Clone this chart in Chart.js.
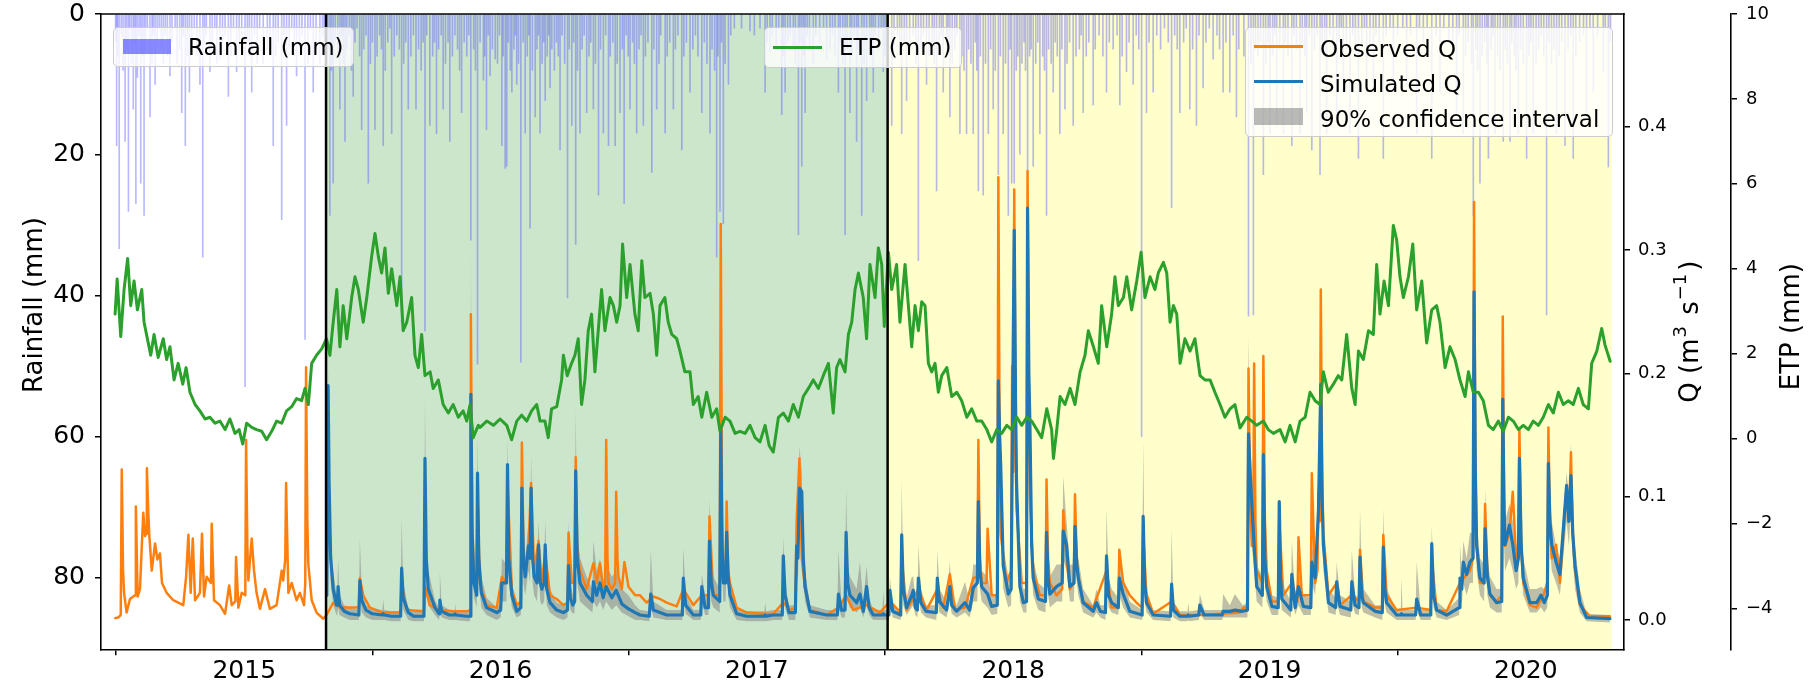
<!DOCTYPE html>
<html>
<head>
<meta charset="utf-8">
<script src="https://cdn.jsdelivr.net/npm/chart.js@4.4.1/dist/chart.umd.min.js"></script>
<style>
  html, body { margin: 0; padding: 0; background: #fff; }
  #wrap { position: relative; width: 1814px; height: 691px; overflow: hidden; }
  canvas { display: block; }
  .lg { position: absolute; background: rgba(255,255,255,0.8); border: 1px solid #cccccc; border-radius: 5px;
        box-sizing: border-box; font-family: "DejaVu Sans", sans-serif; font-size: 23px; color: #000; }
  .lg .row { position: absolute; left: 74px; height: 35px; line-height: 35px; white-space: nowrap; }
  .lg .sw { position: absolute; }
</style>
</head>
<body>
<div id="wrap">
  <canvas id="chart" width="1814" height="691"></canvas>

  <div class="lg" style="left:113px; top:27px; width:241px; height:40px;">
    <span class="sw" style="left:9px; top:11px; width:48px; height:15px; background:rgba(60,60,255,0.6);"></span>
    <span class="row" style="top:2px;">Rainfall (mm)</span>
  </div>

  <div class="lg" style="left:764px; top:27px; width:198px; height:41px;">
    <span class="sw" style="left:8px; top:18px; width:49px; height:3px; background:#2ca02c;"></span>
    <span class="row" style="top:2px;">ETP (mm)</span>
  </div>

  <div class="lg" style="left:1245px; top:27px; width:368px; height:110px;">
    <span class="sw" style="left:8px; top:17px; width:49px; height:3px; background:#ff7f0e;"></span>
    <span class="row" style="top:4px;">Observed Q</span>
    <span class="sw" style="left:8px; top:52px; width:49px; height:3px; background:#1f77b4;"></span>
    <span class="row" style="top:38.5px;">Simulated Q</span>
    <span class="sw" style="left:8px; top:80px; width:49px; height:17px; background:rgba(128,128,128,0.55);"></span>
    <span class="row" style="top:73.5px;">90% confidence interval</span>
  </div>
</div>

<script>
// ---- Periods (decimal years) ----
const calibrationStart = 2015.319;
const validationStart = 2017.510;
const validationEnd = 2020.336;

// ---- Axis ticks ----
const yearTicks = [2015, 2016, 2017, 2018, 2019, 2020];
const rainTicks = [0, 20, 40, 60, 80];
const qTicks = [0, 0.1, 0.2, 0.3, 0.4];
const etpTicks = [-4, -2, 0, 2, 4, 6, 8, 10];

// ---- Daily rainfall, larger events [decimal year, mm] ----
const rainfall = [
  [2014.502,18.7],[2014.512,33.3],[2014.535,18.1],[2014.548,28],[2014.567,13.5],[2014.577,26.9],[2014.596,24],[2014.609,28.6],
  [2014.632,14.6],[2014.652,10],[2014.684,7],[2014.710,8.8],[2014.756,14],[2014.770,18.7],[2014.786,11.1],[2014.827,10],
  [2014.838,34.5],[2014.866,8.2],[2014.905,6.4],[2014.938,11.7],[2014.970,8.2],[2015.003,52.9],[2015.029,11.1],[2015.074,7],
  [2015.113,18.7],[2015.146,29.2],[2015.165,15.8],[2015.204,8.8],[2015.237,46.2],[2015.269,11.1],[2015.295,7],[2015.334,28.6],
  [2015.347,24],[2015.373,13.5],[2015.393,18.1],[2015.425,11.7],[2015.458,16.4],[2015.484,24],[2015.510,16.4],[2015.542,18.7],
  [2015.575,17],[2015.614,43.8],[2015.640,13.5],[2015.670,13.5],[2015.705,45],[2015.724,15.8],[2015.750,17],[2015.776,13.5],
  [2015.802,18.1],[2015.848,14],[2015.884,32.1],[2015.910,49.7],[2015.933,9.4],[2015.945,16.4],[2015.959,8.8],[2015.979,6.4],
  [2016.005,18.7],[2016.018,21.9],[2016.024,21.6],[2016.044,11.1],[2016.063,10],[2016.079,49.4],[2016.096,16.9],[2016.115,30.4],
  [2016.135,14.6],[2016.154,16.9],[2016.174,12.3],[2016.193,10.5],[2016.232,19.3],[2016.261,40.3],[2016.278,15.8],[2016.293,32.7],
  [2016.310,16.9],[2016.336,14],[2016.362,13.5],[2016.382,25.7],[2016.401,16.9],[2016.421,18.7],[2016.447,18.7],[2016.466,14],
  [2016.482,26.9],[2016.505,13.5],[2016.531,16.9],[2016.557,15.8],[2016.590,22.5],[2016.609,13.5],[2016.642,16.9],[2016.674,13.5],
  [2016.707,19.3],[2016.739,11.1],[2016.785,14],[2016.817,16.9],[2016.843,34.5],[2016.856,28],[2016.869,29.8],[2016.889,10],
  [2016.973,2.4],[2017.032,11.1],[2017.051,5.3],[2017.097,14.3],[2017.110,11.1],[2017.162,31.3],[2017.175,21.6],[2017.188,14],
  [2017.220,7],[2017.272,6.4],[2017.318,11.1],[2017.344,31.3],[2017.363,14],[2017.389,18.1],[2017.409,28.6],[2017.428,12.3],
  [2017.454,11.1],[2017.493,8.2],[2017.526,15.8],[2017.565,17],[2017.584,12.3],[2017.630,35],[2017.662,10],[2017.701,25.1],
  [2017.727,11.1],[2017.753,14.6],[2017.792,17],[2017.818,17],[2017.844,17],[2017.864,25.1],[2017.883,25.7],[2017.903,17],
  [2017.922,13.5],[2017.942,22.8],[2017.961,17],[2017.981,28.6],[2017.994,24],[2018.004,24],[2018.026,19.9],[2018.056,22.2],
  [2018.078,21.6],[2018.104,17],[2018.130,28.6],[2018.156,11.1],[2018.182,17],[2018.202,13.5],[2018.234,15.8],[2018.273,14],
  [2018.312,12.9],[2018.364,11.1],[2018.416,12.9],[2018.442,8.2],[2018.468,10],[2018.501,60],[2018.520,14],[2018.546,11.1],
  [2018.618,27.5],[2018.650,14],[2018.689,13.5],[2018.715,15.8],[2018.741,10.5],[2018.780,6.4],[2018.819,11.1],[2018.845,11.1],
  [2018.871,14.6],[2018.918,42.9],[2018.937,42.7],[2018.976,22.8],[2019.002,17],[2019.028,15.8],[2019.054,17],[2019.087,18.7],
  [2019.119,17],[2019.145,14],[2019.165,19.3],[2019.197,22.8],[2019.223,17],[2019.262,14.6],[2019.288,11.1],[2019.314,17],
  [2019.347,20.5],[2019.379,11.1],[2019.405,11.1],[2019.444,20.5],[2019.483,11.1],[2019.535,10],[2019.574,17],[2019.633,20.5],
  [2019.665,11.1],[2019.730,14],[2019.756,17],[2019.795,28.6],[2019.821,24],[2019.854,20.5],[2019.880,17],[2019.912,18.1],
  [2019.938,18.1],[2019.971,17],[2020.003,20.5],[2020.029,17],[2020.081,42.7],[2020.120,17],[2020.153,18.7],[2020.185,20.5],
  [2020.237,14],[2020.263,11.1],[2020.302,8.2],[2020.322,21.7]
];

// ---- Daily rainfall, light showers [decimal year, mm] ----
const rainfallLight = [
  [2014.498,4],[2014.506,6],[2014.520,3],[2014.527,8],[2014.541,5],[2014.553,2],[2014.560,7],[2014.572,4],[2014.583,9],[2014.590,3],
  [2014.602,6],[2014.615,5],[2014.622,2],[2014.640,7],[2014.645,3],[2014.660,4],[2014.668,2],[2014.676,5],[2014.692,3],[2014.700,6],
  [2014.718,4],[2014.730,2],[2014.738,7],[2014.748,5],[2014.762,3],[2014.778,6],[2014.795,4],[2014.805,2],[2014.815,6],[2014.845,4],
  [2014.852,3],[2014.875,5],[2014.885,2],[2014.893,7],[2014.915,4],[2014.925,3],[2014.948,6],[2014.958,2],[2014.980,5],[2014.990,3],
  [2015.012,4],[2015.020,6],[2015.040,3],[2015.050,7],[2015.060,2],[2015.090,5],[2015.100,3],[2015.122,6],[2015.132,4],[2015.155,3],
  [2015.175,5],[2015.185,2],[2015.195,6],[2015.215,4],[2015.225,3],[2015.248,7],[2015.258,2],[2015.280,5],[2015.305,3],[2015.312,6],
  [2015.326,5],[2015.340,8],[2015.355,4],[2015.365,6],[2015.380,3],[2015.386,7],[2015.400,5],[2015.410,3],[2015.418,8],[2015.432,4],
  [2015.440,2],[2015.450,6],[2015.466,5],[2015.475,3],[2015.492,7],[2015.500,4],[2015.518,6],[2015.528,3],[2015.535,5],[2015.550,8],
  [2015.560,4],[2015.568,2],[2015.585,6],[2015.595,3],[2015.605,5],[2015.622,7],[2015.630,4],[2015.650,6],[2015.660,3],[2015.680,5],
  [2015.690,8],[2015.698,4],[2015.712,3],[2015.735,6],[2015.742,4],[2015.758,5],[2015.768,3],[2015.785,7],[2015.795,4],[2015.812,6],
  [2015.822,3],[2015.832,5],[2015.840,8],[2015.858,4],[2015.868,6],[2015.876,3],[2015.895,5],[2015.902,8],[2015.920,4],[2015.938,6],
  [2015.952,3],[2015.968,5],[2015.988,7],[2015.996,3],[2016.010,6],[2016.030,4],[2016.038,8],[2016.052,5],[2016.058,3],[2016.070,7],
  [2016.088,4],[2016.104,6],[2016.110,3],[2016.124,8],[2016.142,5],[2016.148,3],[2016.162,7],[2016.168,4],[2016.182,6],[2016.188,3],
  [2016.200,5],[2016.210,8],[2016.218,4],[2016.225,6],[2016.240,3],[2016.250,7],[2016.268,5],[2016.285,4],[2016.300,8],[2016.318,5],
  [2016.326,3],[2016.345,6],[2016.352,4],[2016.370,7],[2016.390,5],[2016.410,3],[2016.428,6],[2016.438,4],[2016.455,7],[2016.475,5],
  [2016.490,3],[2016.498,6],[2016.515,4],[2016.522,7],[2016.540,5],[2016.548,3],[2016.565,6],[2016.575,4],[2016.598,5],[2016.618,7],
  [2016.625,3],[2016.650,6],[2016.660,4],[2016.682,5],[2016.692,3],[2016.715,6],[2016.725,4],[2016.750,5],[2016.760,3],[2016.770,6],
  [2016.795,4],[2016.805,7],[2016.825,5],[2016.835,8],[2016.848,6],[2016.862,4],[2016.876,7],[2016.898,3],[2016.912,2],[2016.940,2],
  [2016.990,3],[2017.012,2],[2017.040,4],[2017.060,3],[2017.075,5],[2017.085,2],[2017.103,6],[2017.120,4],[2017.130,3],[2017.142,5],
  [2017.150,7],[2017.168,4],[2017.182,6],[2017.196,3],[2017.205,5],[2017.230,3],[2017.245,4],[2017.260,2],[2017.285,5],[2017.295,3],
  [2017.305,6],[2017.325,4],[2017.335,7],[2017.352,5],[2017.370,6],[2017.380,3],[2017.396,5],[2017.418,7],[2017.440,4],[2017.447,6],
  [2017.462,3],[2017.475,5],[2017.485,2],[2017.500,6],[2017.512,4],[2017.535,5],[2017.548,3],[2017.557,6],[2017.575,4],[2017.596,5],
  [2017.610,3],[2017.620,7],[2017.640,5],[2017.650,3],[2017.672,6],[2017.684,4],[2017.692,7],[2017.712,5],[2017.720,3],[2017.740,6],
  [2017.746,4],[2017.762,7],[2017.772,5],[2017.780,3],[2017.800,6],[2017.808,8],[2017.826,5],[2017.835,7],[2017.852,4],[2017.858,8],
  [2017.872,6],[2017.892,7],[2017.912,5],[2017.930,8],[2017.950,6],[2017.970,7],[2017.988,5],[2018.012,8],[2018.018,6],[2018.034,7],
  [2018.042,4],[2018.048,8],[2018.064,6],[2018.070,5],[2018.088,7],[2018.096,4],[2018.115,6],[2018.122,8],[2018.138,5],[2018.148,7],
  [2018.164,4],[2018.172,6],[2018.190,5],[2018.210,7],[2018.220,4],[2018.245,6],[2018.258,5],[2018.265,3],[2018.285,6],[2018.295,4],
  [2018.320,5],[2018.335,3],[2018.350,6],[2018.375,4],[2018.390,5],[2018.405,3],[2018.425,6],[2018.452,4],[2018.480,3],[2018.490,5],
  [2018.530,4],[2018.560,3],[2018.575,5],[2018.590,2],[2018.605,4],[2018.630,3],[2018.640,5],[2018.665,4],[2018.675,2],[2018.700,5],
  [2018.725,3],[2018.752,4],[2018.765,2],[2018.795,3],[2018.805,5],[2018.830,4],[2018.858,3],[2018.880,5],[2018.900,6],[2018.928,7],
  [2018.945,5],[2018.955,6],[2018.965,4],[2018.985,7],[2018.995,4],[2019.012,6],[2019.020,3],[2019.040,5],[2019.062,4],[2019.072,6],
  [2019.095,3],[2019.105,5],[2019.128,4],[2019.138,6],[2019.155,3],[2019.175,5],[2019.185,3],[2019.205,4],[2019.215,6],[2019.235,3],
  [2019.248,5],[2019.272,4],[2019.280,2],[2019.300,5],[2019.325,3],[2019.335,6],[2019.360,4],[2019.370,2],[2019.392,5],[2019.415,3],
  [2019.428,4],[2019.455,3],[2019.470,2],[2019.500,3],[2019.520,2],[2019.550,3],[2019.585,2],[2019.600,4],[2019.615,2],[2019.650,3],
  [2019.680,2],[2019.700,4],[2019.715,5],[2019.740,3],[2019.765,6],[2019.775,4],[2019.788,7],[2019.805,5],[2019.812,8],[2019.830,6],
  [2019.840,4],[2019.848,7],[2019.865,5],[2019.872,3],[2019.890,6],[2019.900,8],[2019.920,5],[2019.928,7],[2019.945,4],[2019.955,6],
  [2019.962,8],[2019.980,5],[2019.990,7],[2020.012,6],[2020.020,4],[2020.040,7],[2020.050,5],[2020.060,3],[2020.070,6],[2020.090,4],
  [2020.100,7],[2020.110,5],[2020.130,6],[2020.140,4],[2020.165,5],[2020.175,3],[2020.195,6],[2020.210,4],[2020.225,3],[2020.250,2],
  [2020.280,3],[2020.310,2],[2020.330,4]
];

// ---- Reference evapotranspiration [decimal year, mm] ----
const etp = [
  [2014.496,2.93],[2014.504,3.76],[2014.518,2.40],[2014.531,3.51],[2014.545,4.24],[2014.557,3.13],[2014.570,3.71],[2014.583,3.03],
  [2014.600,3.51],[2014.609,2.74],[2014.622,2.35],[2014.635,1.96],[2014.648,2.45],[2014.664,1.91],[2014.684,2.35],[2014.697,1.86],
  [2014.710,2.16],[2014.726,1.38],[2014.742,1.77],[2014.760,1.28],[2014.773,1.67],[2014.788,1.09],[2014.808,0.80],[2014.827,0.65],
  [2014.847,0.46],[2014.866,0.50],[2014.886,0.36],[2014.905,0.41],[2014.925,0.21],[2014.944,0.46],[2014.964,0.12],[2014.980,0.21],
  [2014.994,-0.13],[2015.009,0.36],[2015.029,0.26],[2015.048,0.21],[2015.068,0.17],[2015.087,-0.03],[2015.107,0.17],[2015.126,0.41],
  [2015.146,0.36],[2015.165,0.65],[2015.185,0.75],[2015.204,0.94],[2015.224,0.89],[2015.237,1.18],[2015.250,0.80],[2015.263,1.77],
  [2015.282,1.96],[2015.302,2.11],[2015.321,2.35],[2015.334,1.96],[2015.347,2.74],[2015.361,3.51],[2015.373,2.16],[2015.386,3.13],
  [2015.400,2.35],[2015.419,3.32],[2015.432,3.81],[2015.445,3.51],[2015.464,2.74],[2015.478,3.32],[2015.497,4.29],[2015.510,4.83],
  [2015.523,4.29],[2015.536,3.90],[2015.549,4.49],[2015.562,3.42],[2015.575,4.00],[2015.595,3.13],[2015.608,3.81],[2015.620,2.54],
  [2015.634,2.74],[2015.653,3.32],[2015.666,1.96],[2015.679,1.67],[2015.692,2.45],[2015.705,1.48],[2015.725,1.57],[2015.737,1.18],
  [2015.757,1.38],[2015.776,0.80],[2015.796,0.60],[2015.815,0.80],[2015.835,0.50],[2015.854,0.65],[2015.868,0.41],[2015.881,0.80],
  [2015.893,0.02],[2015.913,0.31],[2015.920,0.26],[2015.946,0.41],[2015.972,0.31],[2015.998,0.46],[2016.024,0.31],[2016.043,-0.03],
  [2016.063,0.41],[2016.082,0.55],[2016.102,0.41],[2016.121,0.65],[2016.141,0.80],[2016.154,0.41],[2016.173,0.41],[2016.186,0.02],
  [2016.199,0.70],[2016.219,0.75],[2016.238,1.38],[2016.245,1.96],[2016.260,1.48],[2016.277,1.77],[2016.290,1.96],[2016.303,2.35],
  [2016.316,0.80],[2016.329,1.38],[2016.342,2.54],[2016.355,2.93],[2016.368,1.57],[2016.381,2.54],[2016.394,3.51],[2016.407,2.54],
  [2016.427,3.32],[2016.440,3.13],[2016.453,2.74],[2016.466,3.13],[2016.476,4.58],[2016.492,3.32],[2016.505,4.10],[2016.524,2.93],
  [2016.537,2.54],[2016.551,4.19],[2016.563,3.32],[2016.583,3.42],[2016.596,2.93],[2016.609,1.96],[2016.622,3.13],[2016.641,3.32],
  [2016.654,2.74],[2016.668,2.45],[2016.687,2.35],[2016.700,2.06],[2016.719,1.57],[2016.739,1.57],[2016.752,0.80],[2016.771,0.99],
  [2016.785,0.50],[2016.804,1.09],[2016.824,0.50],[2016.843,0.70],[2016.856,0.17],[2016.876,0.50],[2016.895,0.41],[2016.915,0.12],
  [2016.934,0.17],[2016.954,0.12],[2016.973,0.31],[2016.993,0.02],[2017.012,-0.08],[2017.032,0.31],[2017.048,-0.17],[2017.064,-0.32],
  [2017.084,0.50],[2017.103,0.60],[2017.123,0.41],[2017.142,0.80],[2017.162,0.50],[2017.181,0.99],[2017.201,1.18],[2017.220,1.38],
  [2017.240,1.18],[2017.259,1.48],[2017.279,1.77],[2017.298,0.60],[2017.311,1.67],[2017.324,1.86],[2017.344,1.57],[2017.357,2.45],
  [2017.370,2.74],[2017.383,3.51],[2017.396,3.90],[2017.415,3.32],[2017.428,2.35],[2017.441,4.10],[2017.461,3.32],[2017.474,4.49],
  [2017.487,4.10],[2017.497,2.64],[2017.513,4.39],[2017.526,3.51],[2017.545,4.10],[2017.558,2.74],[2017.578,4.10],[2017.591,3.13],
  [2017.604,2.16],[2017.617,3.13],[2017.630,2.54],[2017.643,3.22],[2017.656,3.13],[2017.669,1.77],[2017.682,1.57],[2017.695,1.77],
  [2017.708,1.09],[2017.721,1.48],[2017.741,1.67],[2017.760,0.99],[2017.780,1.09],[2017.799,0.89],[2017.819,0.50],[2017.838,0.70],
  [2017.858,0.41],[2017.877,0.41],[2017.897,0.21],[2017.916,-0.08],[2017.936,0.21],[2017.955,0.12],[2017.975,0.31],[2017.994,0.21],
  [2018.014,0.50],[2018.033,0.31],[2018.053,0.50],[2018.072,0.41],[2018.092,0.21],[2018.111,0.02],[2018.131,0.70],[2018.150,0.21],
  [2018.157,-0.47],[2018.170,0.21],[2018.183,0.99],[2018.202,0.80],[2018.222,1.18],[2018.241,0.80],[2018.261,1.57],[2018.280,1.96],
  [2018.293,2.54],[2018.313,2.16],[2018.332,1.77],[2018.345,3.13],[2018.365,2.16],[2018.384,2.93],[2018.397,3.81],[2018.410,3.13],
  [2018.430,3.32],[2018.443,3.81],[2018.462,3.03],[2018.482,3.71],[2018.499,4.39],[2018.514,3.32],[2018.534,3.81],[2018.553,3.51],
  [2018.566,3.90],[2018.586,4.15],[2018.599,3.90],[2018.612,2.74],[2018.625,3.13],[2018.638,2.93],[2018.651,1.77],[2018.670,2.35],
  [2018.690,2.06],[2018.709,2.35],[2018.729,1.48],[2018.748,1.38],[2018.768,1.38],[2018.787,1.09],[2018.807,0.80],[2018.826,0.50],
  [2018.846,0.70],[2018.865,0.80],[2018.885,0.25],[2018.911,0.50],[2018.931,0.41],[2018.950,0.31],[2018.976,0.41],[2018.995,0.21],
  [2019.015,0.12],[2019.041,0.21],[2019.061,-0.08],[2019.080,0.31],[2019.100,-0.08],[2019.119,0.41],[2019.139,0.50],[2019.158,1.09],
  [2019.178,0.89],[2019.197,0.80],[2019.210,1.57],[2019.229,1.09],[2019.249,1.28],[2019.268,1.48],[2019.282,1.38],[2019.301,2.45],
  [2019.321,1.18],[2019.334,0.80],[2019.347,2.06],[2019.366,1.86],[2019.386,2.54],[2019.405,2.45],[2019.418,4.10],[2019.431,2.93],
  [2019.447,3.71],[2019.464,3.13],[2019.483,5.02],[2019.496,4.68],[2019.509,3.81],[2019.522,3.32],[2019.542,3.81],[2019.559,4.58],
  [2019.574,3.03],[2019.594,3.71],[2019.613,2.25],[2019.633,3.03],[2019.652,3.13],[2019.665,2.74],[2019.685,1.67],[2019.704,2.16],
  [2019.724,1.86],[2019.743,1.38],[2019.763,0.99],[2019.776,1.57],[2019.795,1.09],[2019.815,1.09],[2019.834,0.89],[2019.854,0.31],
  [2019.873,0.21],[2019.893,0.41],[2019.912,0.17],[2019.932,0.50],[2019.951,0.41],[2019.971,0.21],[2019.990,0.31],[2020.010,0.21],
  [2020.029,0.41],[2020.049,0.31],[2020.068,0.50],[2020.088,0.80],[2020.107,0.60],[2020.127,1.09],[2020.146,0.80],[2020.166,0.89],
  [2020.185,0.80],[2020.205,1.18],[2020.224,0.80],[2020.244,0.70],[2020.257,1.77],[2020.277,2.06],[2020.296,2.59],[2020.309,2.20],
  [2020.329,1.82]
];

// ---- Observed discharge [decimal year, m3/s] ----
const observedQ = [
  [2014.496,0.0015],[2014.508,0.002],[2014.518,0.004],[2014.522,0.122],[2014.527,0.04],[2014.531,0.022],[2014.541,0.006],[2014.554,0.017],
  [2014.567,0.019],[2014.574,0.02],[2014.577,0.092],[2014.584,0.019],[2014.593,0.025],[2014.600,0.059],[2014.606,0.087],[2014.613,0.068],
  [2014.617,0.07],[2014.620,0.123],[2014.625,0.09],[2014.629,0.07],[2014.639,0.04],[2014.652,0.062],[2014.661,0.049],[2014.671,0.054],
  [2014.679,0.03],[2014.697,0.022],[2014.723,0.016],[2014.762,0.012],[2014.773,0.035],[2014.782,0.069],[2014.791,0.022],[2014.799,0.066],
  [2014.808,0.016],[2014.827,0.022],[2014.835,0.07],[2014.843,0.019],[2014.853,0.035],[2014.870,0.03],[2014.873,0.078],[2014.882,0.016],
  [2014.905,0.012],[2014.925,0.005],[2014.941,0.028],[2014.951,0.012],[2014.965,0.015],[2014.968,0.051],[2014.977,0.01],[2014.990,0.022],
  [2015.004,0.02],[2015.007,0.146],[2015.012,0.06],[2015.016,0.032],[2015.029,0.066],[2015.038,0.04],[2015.048,0.022],[2015.061,0.009],
  [2015.081,0.025],[2015.100,0.009],[2015.126,0.012],[2015.146,0.04],[2015.152,0.032],[2015.160,0.05],[2015.163,0.111],[2015.172,0.022],
  [2015.185,0.03],[2015.204,0.016],[2015.217,0.022],[2015.233,0.012],[2015.238,0.03],[2015.241,0.205],[2015.246,0.08],[2015.250,0.045],
  [2015.263,0.016],[2015.282,0.006],[2015.308,0.001],[2015.321,0.004],[2015.347,0.014],[2015.373,0.01],[2015.425,0.01],[2015.447,0.01],
  [2015.451,0.034],[2015.464,0.02],[2015.490,0.01],[2015.542,0.006],[2015.610,0.006],[2015.614,0.03],[2015.633,0.008],[2015.701,0.007],
  [2015.705,0.027],[2015.724,0.012],[2015.763,0.008],[2015.815,0.007],[2015.867,0.007],[2015.881,0.008],[2015.884,0.248],[2015.889,0.08],
  [2015.896,0.04],[2015.907,0.03],[2015.910,0.1],[2015.919,0.03],[2015.945,0.012],[2015.985,0.01],[2016.005,0.035],[2016.023,0.03],
  [2016.027,0.11],[2016.044,0.025],[2016.063,0.012],[2016.079,0.015],[2016.083,0.144],[2016.089,0.06],[2016.096,0.04],[2016.109,0.06],
  [2016.119,0.111],[2016.131,0.04],[2016.148,0.064],[2016.161,0.03],[2016.174,0.055],[2016.193,0.02],[2016.219,0.017],[2016.245,0.012],
  [2016.261,0.014],[2016.265,0.071],[2016.278,0.03],[2016.289,0.03],[2016.293,0.132],[2016.299,0.06],[2016.310,0.04],[2016.336,0.025],
  [2016.362,0.046],[2016.375,0.03],[2016.388,0.046],[2016.401,0.025],[2016.408,0.03],[2016.412,0.146],[2016.417,0.05],[2016.421,0.03],
  [2016.434,0.025],[2016.447,0.03],[2016.451,0.104],[2016.456,0.05],[2016.460,0.035],[2016.473,0.025],[2016.483,0.047],[2016.499,0.027],
  [2016.525,0.02],[2016.544,0.02],[2016.570,0.014],[2016.596,0.019],[2016.622,0.017],[2016.648,0.014],[2016.687,0.011],[2016.713,0.025],
  [2016.752,0.012],[2016.785,0.02],[2016.811,0.02],[2016.815,0.084],[2016.830,0.02],[2016.855,0.02],[2016.859,0.321],[2016.864,0.08],
  [2016.869,0.04],[2016.878,0.04],[2016.882,0.096],[2016.888,0.04],[2016.895,0.03],[2016.921,0.01],[2016.960,0.006],[2017.025,0.005],
  [2017.064,0.005],[2017.103,0.014],[2017.129,0.008],[2017.150,0.01],[2017.155,0.08],[2017.166,0.131],[2017.175,0.05],[2017.188,0.025],
  [2017.207,0.008],[2017.272,0.004],[2017.318,0.01],[2017.348,0.02],[2017.376,0.008],[2017.428,0.012],[2017.480,0.006],[2017.519,0.015],
  [2017.561,0.006],[2017.565,0.05],[2017.584,0.008],[2017.630,0.025],[2017.662,0.008],[2017.704,0.025],[2017.727,0.01],[2017.753,0.037],
  [2017.773,0.008],[2017.812,0.01],[2017.844,0.034],[2017.860,0.035],[2017.864,0.146],[2017.870,0.05],[2017.877,0.03],[2017.896,0.03],
  [2017.900,0.074],[2017.916,0.02],[2017.938,0.02],[2017.942,0.359],[2017.947,0.15],[2017.951,0.07],[2017.974,0.03],[2017.992,0.04],
  [2017.996,0.206],[2018.000,0.12],[2018.004,0.349],[2018.009,0.15],[2018.013,0.09],[2018.033,0.03],[2018.052,0.03],[2018.056,0.364],
  [2018.061,0.18],[2018.065,0.1],[2018.078,0.04],[2018.104,0.02],[2018.126,0.02],[2018.130,0.114],[2018.136,0.05],[2018.143,0.03],
  [2018.169,0.02],[2018.191,0.025],[2018.195,0.089],[2018.208,0.05],[2018.221,0.025],[2018.237,0.03],[2018.241,0.102],[2018.248,0.05],
  [2018.254,0.035],[2018.273,0.015],[2018.312,0.01],[2018.364,0.04],[2018.384,0.01],[2018.410,0.01],[2018.414,0.057],[2018.429,0.03],
  [2018.455,0.02],[2018.481,0.014],[2018.503,0.01],[2018.507,0.07],[2018.520,0.02],[2018.546,0.005],[2018.618,0.015],[2018.650,0.004],
  [2018.728,0.004],[2018.819,0.005],[2018.885,0.006],[2018.898,0.01],[2018.914,0.01],[2018.918,0.204],[2018.924,0.1],[2018.931,0.06],
  [2018.936,0.06],[2018.940,0.208],[2018.945,0.08],[2018.950,0.04],[2018.972,0.03],[2018.976,0.214],[2018.982,0.08],[2018.989,0.04],
  [2019.009,0.015],[2019.034,0.015],[2019.038,0.08],[2019.054,0.02],[2019.087,0.03],[2019.109,0.015],[2019.113,0.067],[2019.126,0.02],
  [2019.161,0.02],[2019.165,0.119],[2019.178,0.03],[2019.187,0.04],[2019.191,0.104],[2019.196,0.08],[2019.200,0.268],[2019.205,0.12],
  [2019.210,0.07],[2019.230,0.02],[2019.262,0.03],[2019.275,0.012],[2019.321,0.02],[2019.349,0.015],[2019.353,0.057],[2019.366,0.015],
  [2019.412,0.01],[2019.440,0.01],[2019.444,0.069],[2019.457,0.02],[2019.496,0.008],[2019.574,0.01],[2019.629,0.008],[2019.633,0.05],
  [2019.652,0.008],[2019.691,0.007],[2019.743,0.03],[2019.782,0.04],[2019.794,0.05],[2019.798,0.339],[2019.803,0.13],[2019.808,0.06],
  [2019.821,0.03],[2019.837,0.03],[2019.841,0.094],[2019.850,0.04],[2019.860,0.02],[2019.886,0.015],[2019.906,0.02],[2019.910,0.246],
  [2019.915,0.1],[2019.919,0.06],[2019.936,0.07],[2019.949,0.104],[2019.962,0.05],[2019.971,0.06],[2019.975,0.154],[2019.982,0.06],
  [2019.990,0.03],[2020.016,0.012],[2020.042,0.01],[2020.068,0.02],[2020.084,0.03],[2020.088,0.156],[2020.094,0.08],[2020.101,0.05],
  [2020.118,0.061],[2020.133,0.03],[2020.159,0.109],[2020.168,0.08],[2020.176,0.136],[2020.183,0.07],[2020.192,0.04],[2020.211,0.012],
  [2020.250,0.003],[2020.328,0.003]
];

// ---- Simulated discharge with 90% band [decimal year, Q, lower, upper] ----
const simulatedQ = [
  [2015.322,0.02,0.005,0.03],[2015.327,0.19,0.15,0.204],[2015.331,0.11,0.08,0.13],[2015.337,0.05,0.03,0.07],[2015.347,0.025,0.012,0.04],
  [2015.360,0.012,0.004,0.02],[2015.363,0.012,0.004,0.02],[2015.366,0.027,0.01,0.05],[2015.372,0.012,0.004,0.02],[2015.390,0.007,0.002,0.012],
  [2015.412,0.005,0.0,0.01],[2015.447,0.004,0.0,0.008],[2015.451,0.032,0.02,0.066],[2015.458,0.016,0.006,0.025],[2015.475,0.008,0.002,0.012],
  [2015.500,0.005,0.0,0.009],[2015.539,0.004,0.0,0.008],[2015.542,0.005,0.0,0.017],[2015.546,0.004,0.0,0.008],[2015.575,0.003,-0.001,0.007],
  [2015.610,0.003,-0.001,0.007],[2015.614,0.042,0.03,0.082],[2015.620,0.018,0.008,0.03],[2015.640,0.006,0.0,0.01],[2015.660,0.003,-0.001,0.007],
  [2015.701,0.003,-0.001,0.007],[2015.705,0.131,0.1,0.181],[2015.710,0.05,0.03,0.07],[2015.718,0.025,0.012,0.04],[2015.744,0.01,0.004,0.016],
  [2015.760,0.005,0.0,0.01],[2015.763,0.016,0.006,0.039],[2015.770,0.007,0.002,0.012],[2015.800,0.004,0.0,0.008],[2015.819,0.004,0.0,0.008],
  [2015.822,0.005,0.0,0.014],[2015.826,0.004,0.0,0.008],[2015.867,0.003,-0.001,0.007],[2015.881,0.003,-0.001,0.007],[2015.884,0.183,0.15,0.306],
  [2015.889,0.07,0.05,0.1],[2015.896,0.03,0.018,0.045],[2015.907,0.02,0.01,0.03],[2015.910,0.119,0.09,0.151],[2015.915,0.05,0.03,0.07],
  [2015.925,0.022,0.01,0.035],[2015.945,0.01,0.004,0.018],[2015.985,0.006,0.0,0.01],[2016.000,0.008,0.002,0.014],[2016.005,0.03,0.015,0.05],
  [2016.023,0.03,0.015,0.045],[2016.027,0.126,0.1,0.151],[2016.032,0.05,0.03,0.07],[2016.044,0.02,0.01,0.03],[2016.063,0.007,0.002,0.012],
  [2016.079,0.01,0.004,0.016],[2016.083,0.107,0.08,0.12],[2016.089,0.05,0.03,0.065],[2016.096,0.035,0.02,0.05],[2016.109,0.06,0.04,0.08],
  [2016.115,0.05,0.03,0.065],[2016.119,0.107,0.08,0.134],[2016.125,0.05,0.03,0.065],[2016.131,0.035,0.02,0.05],[2016.142,0.03,0.015,0.045],
  [2016.148,0.061,0.04,0.08],[2016.155,0.03,0.015,0.045],[2016.161,0.025,0.012,0.04],[2016.170,0.03,0.015,0.045],[2016.174,0.061,0.04,0.081],
  [2016.180,0.025,0.012,0.04],[2016.193,0.014,0.006,0.025],[2016.219,0.008,0.002,0.014],[2016.245,0.006,0.0,0.012],[2016.261,0.008,0.002,0.014],
  [2016.265,0.044,0.03,0.081],[2016.272,0.018,0.008,0.03],[2016.282,0.012,0.005,0.02],[2016.289,0.015,0.006,0.025],[2016.293,0.121,0.1,0.171],
  [2016.299,0.05,0.03,0.07],[2016.310,0.03,0.015,0.05],[2016.336,0.02,0.01,0.035],[2016.358,0.015,0.006,0.025],[2016.362,0.031,0.015,0.064],
  [2016.375,0.02,0.01,0.04],[2016.388,0.03,0.015,0.05],[2016.400,0.018,0.008,0.03],[2016.412,0.027,0.015,0.045],[2016.434,0.018,0.008,0.035],
  [2016.451,0.024,0.012,0.04],[2016.473,0.013,0.006,0.025],[2016.499,0.009,0.003,0.02],[2016.525,0.006,0.0,0.012],[2016.544,0.004,0.0,0.008],
  [2016.580,0.003,-0.001,0.007],[2016.586,0.021,0.01,0.057],[2016.596,0.008,0.002,0.015],[2016.648,0.004,0.0,0.008],[2016.709,0.004,0.0,0.008],
  [2016.713,0.034,0.02,0.059],[2016.722,0.012,0.005,0.02],[2016.752,0.004,0.0,0.008],[2016.781,0.004,0.0,0.008],[2016.785,0.027,0.015,0.037],
  [2016.798,0.01,0.004,0.02],[2016.811,0.01,0.004,0.02],[2016.815,0.064,0.045,0.099],[2016.822,0.03,0.015,0.045],[2016.830,0.02,0.01,0.035],
  [2016.855,0.015,0.006,0.025],[2016.859,0.154,0.12,0.16],[2016.864,0.06,0.04,0.08],[2016.869,0.03,0.015,0.045],[2016.878,0.03,0.015,0.045],
  [2016.882,0.071,0.05,0.09],[2016.888,0.035,0.02,0.05],[2016.895,0.02,0.01,0.03],[2016.921,0.005,0.0,0.009],[2016.960,0.003,-0.001,0.007],
  [2017.029,0.003,-0.001,0.007],[2017.032,0.004,-0.001,0.014],[2017.036,0.003,-0.001,0.007],[2017.064,0.004,0.0,0.008],[2017.099,0.004,0.0,0.008],
  [2017.103,0.052,0.035,0.067],[2017.110,0.02,0.01,0.03],[2017.125,0.006,0.0,0.012],[2017.150,0.006,0.0,0.012],[2017.155,0.06,0.04,0.08],
  [2017.160,0.05,0.03,0.07],[2017.166,0.107,0.08,0.141],[2017.175,0.104,0.07,0.12],[2017.181,0.05,0.03,0.065],[2017.188,0.027,0.015,0.04],
  [2017.207,0.007,0.002,0.012],[2017.272,0.004,0.0,0.008],[2017.314,0.004,0.0,0.008],[2017.318,0.021,0.01,0.057],[2017.330,0.008,0.002,0.015],
  [2017.344,0.008,0.002,0.015],[2017.348,0.071,0.05,0.107],[2017.354,0.03,0.015,0.045],[2017.363,0.02,0.01,0.035],[2017.389,0.014,0.006,0.025],
  [2017.402,0.021,0.01,0.047],[2017.415,0.007,0.002,0.015],[2017.428,0.027,0.012,0.044],[2017.438,0.01,0.004,0.018],[2017.454,0.004,0.0,0.008],
  [2017.490,0.004,0.0,0.008],[2017.493,0.005,0.0,0.024],[2017.497,0.004,0.0,0.008],[2017.515,0.004,0.0,0.008],[2017.519,0.024,0.012,0.035],
  [2017.530,0.007,0.002,0.012],[2017.561,0.004,0.0,0.008],[2017.565,0.069,0.05,0.114],[2017.571,0.025,0.012,0.04],[2017.584,0.01,0.004,0.018],
  [2017.604,0.02,0.01,0.035],[2017.610,0.024,0.012,0.035],[2017.618,0.01,0.004,0.018],[2017.626,0.008,0.002,0.015],[2017.630,0.034,0.02,0.061],
  [2017.640,0.014,0.006,0.025],[2017.660,0.007,0.002,0.012],[2017.700,0.006,0.0,0.012],[2017.704,0.034,0.02,0.057],[2017.712,0.015,0.006,0.025],
  [2017.740,0.008,0.002,0.015],[2017.753,0.027,0.015,0.047],[2017.760,0.012,0.005,0.02],[2017.779,0.007,0.002,0.012],[2017.812,0.014,0.006,0.031],
  [2017.830,0.008,0.002,0.015],[2017.844,0.026,0.015,0.045],[2017.860,0.03,0.015,0.045],[2017.864,0.096,0.07,0.12],[2017.870,0.04,0.025,0.06],
  [2017.877,0.027,0.015,0.04],[2017.900,0.021,0.01,0.035],[2017.916,0.011,0.004,0.02],[2017.938,0.012,0.005,0.02],[2017.942,0.194,0.16,0.2],
  [2017.947,0.15,0.11,0.17],[2017.951,0.127,0.09,0.15],[2017.961,0.044,0.025,0.06],[2017.981,0.021,0.01,0.035],[2017.992,0.025,0.012,0.04],
  [2017.996,0.127,0.09,0.2],[2018.004,0.316,0.27,0.35],[2018.009,0.18,0.14,0.21],[2018.013,0.111,0.08,0.14],[2018.026,0.027,0.015,0.045],
  [2018.040,0.014,0.006,0.025],[2018.052,0.015,0.006,0.025],[2018.056,0.334,0.29,0.35],[2018.061,0.2,0.16,0.23],[2018.065,0.161,0.12,0.2],
  [2018.072,0.06,0.04,0.08],[2018.078,0.034,0.02,0.05],[2018.098,0.017,0.008,0.03],[2018.126,0.015,0.006,0.025],[2018.130,0.071,0.05,0.104],
  [2018.136,0.035,0.02,0.05],[2018.143,0.021,0.01,0.035],[2018.169,0.027,0.015,0.045],[2018.191,0.03,0.015,0.045],[2018.195,0.072,0.05,0.117],
  [2018.208,0.061,0.04,0.08],[2018.221,0.027,0.015,0.045],[2018.237,0.03,0.015,0.045],[2018.241,0.076,0.05,0.094],[2018.248,0.045,0.03,0.06],
  [2018.254,0.034,0.02,0.05],[2018.273,0.014,0.006,0.025],[2018.312,0.007,0.002,0.012],[2018.325,0.014,0.006,0.025],[2018.340,0.007,0.002,0.012],
  [2018.360,0.006,0.0,0.012],[2018.364,0.052,0.035,0.091],[2018.372,0.02,0.01,0.035],[2018.384,0.014,0.006,0.025],[2018.410,0.01,0.004,0.018],
  [2018.414,0.034,0.02,0.05],[2018.429,0.021,0.01,0.035],[2018.455,0.007,0.002,0.015],[2018.503,0.004,0.0,0.008],[2018.507,0.084,0.06,0.146],
  [2018.513,0.03,0.015,0.045],[2018.520,0.014,0.006,0.025],[2018.546,0.004,0.0,0.008],[2018.614,0.003,-0.001,0.007],[2018.618,0.029,0.015,0.074],
  [2018.625,0.008,0.002,0.015],[2018.650,0.003,-0.001,0.007],[2018.680,0.003,-0.001,0.007],[2018.683,0.004,0.0,0.014],[2018.687,0.003,-0.001,0.007],
  [2018.724,0.004,0.0,0.008],[2018.728,0.012,0.005,0.021],[2018.745,0.004,0.0,0.008],[2018.815,0.004,0.0,0.008],[2018.819,0.007,0.002,0.021],
  [2018.845,0.007,0.002,0.012],[2018.865,0.008,0.002,0.021],[2018.895,0.007,0.002,0.012],[2018.914,0.008,0.002,0.014],[2018.918,0.151,0.12,0.231],
  [2018.924,0.12,0.09,0.15],[2018.931,0.094,0.06,0.12],[2018.940,0.06,0.04,0.1],[2018.950,0.027,0.015,0.045],[2018.972,0.02,0.01,0.035],
  [2018.976,0.134,0.1,0.214],[2018.982,0.05,0.03,0.07],[2018.989,0.027,0.015,0.045],[2019.009,0.011,0.004,0.02],[2019.034,0.01,0.004,0.018],
  [2019.038,0.096,0.07,0.097],[2019.043,0.035,0.02,0.05],[2019.048,0.017,0.008,0.03],[2019.083,0.008,0.002,0.015],[2019.087,0.037,0.02,0.064],
  [2019.100,0.01,0.004,0.02],[2019.113,0.027,0.012,0.04],[2019.132,0.011,0.004,0.02],[2019.161,0.01,0.004,0.018],[2019.165,0.047,0.03,0.06],
  [2019.178,0.034,0.02,0.05],[2019.191,0.089,0.06,0.1],[2019.200,0.191,0.15,0.195],[2019.205,0.1,0.07,0.12],[2019.210,0.061,0.04,0.08],
  [2019.230,0.014,0.006,0.025],[2019.258,0.01,0.004,0.018],[2019.262,0.031,0.015,0.047],[2019.275,0.011,0.004,0.02],[2019.317,0.008,0.002,0.015],
  [2019.321,0.031,0.015,0.057],[2019.334,0.012,0.005,0.02],[2019.349,0.01,0.004,0.018],[2019.353,0.051,0.035,0.091],[2019.360,0.02,0.01,0.035],
  [2019.366,0.014,0.006,0.025],[2019.412,0.007,0.002,0.012],[2019.440,0.006,0.0,0.012],[2019.444,0.059,0.04,0.091],[2019.450,0.025,0.012,0.04],
  [2019.457,0.014,0.006,0.025],[2019.496,0.004,0.0,0.008],[2019.512,0.004,0.0,0.008],[2019.515,0.005,0.0,0.034],[2019.519,0.004,0.0,0.008],
  [2019.535,0.004,0.0,0.008],[2019.570,0.004,0.0,0.008],[2019.574,0.017,0.008,0.047],[2019.590,0.004,0.0,0.008],[2019.629,0.004,0.0,0.008],
  [2019.633,0.062,0.04,0.077],[2019.640,0.02,0.01,0.035],[2019.652,0.008,0.002,0.015],[2019.691,0.004,0.0,0.008],[2019.740,0.01,0.004,0.018],
  [2019.743,0.034,0.02,0.061],[2019.750,0.025,0.012,0.04],[2019.756,0.047,0.03,0.064],[2019.769,0.037,0.02,0.05],[2019.782,0.047,0.03,0.071],
  [2019.794,0.05,0.03,0.07],[2019.798,0.266,0.22,0.3],[2019.803,0.12,0.09,0.15],[2019.808,0.061,0.04,0.08],[2019.821,0.034,0.02,0.05],
  [2019.837,0.03,0.015,0.045],[2019.841,0.074,0.05,0.107],[2019.850,0.035,0.02,0.05],[2019.860,0.021,0.01,0.035],[2019.886,0.014,0.006,0.025],
  [2019.906,0.015,0.006,0.025],[2019.910,0.179,0.14,0.19],[2019.915,0.09,0.06,0.11],[2019.919,0.061,0.04,0.08],[2019.936,0.077,0.05,0.094],
  [2019.949,0.061,0.04,0.08],[2019.962,0.04,0.025,0.06],[2019.971,0.05,0.03,0.065],[2019.975,0.131,0.1,0.138],[2019.982,0.06,0.04,0.08],
  [2019.990,0.034,0.02,0.05],[2020.016,0.014,0.006,0.025],[2020.042,0.014,0.006,0.025],[2020.059,0.02,0.01,0.027],[2020.072,0.014,0.006,0.025],
  [2020.084,0.02,0.01,0.035],[2020.088,0.127,0.1,0.154],[2020.094,0.08,0.06,0.1],[2020.101,0.061,0.04,0.08],[2020.118,0.047,0.03,0.06],
  [2020.133,0.037,0.02,0.05],[2020.159,0.109,0.08,0.12],[2020.168,0.08,0.06,0.1],[2020.176,0.117,0.09,0.144],[2020.183,0.07,0.05,0.09],
  [2020.192,0.044,0.025,0.06],[2020.211,0.014,0.006,0.025],[2020.237,0.002,-0.001,0.005],[2020.328,0.001,-0.002,0.004]
];

// ---- Drawing helpers ----
const FONT = '"DejaVu Sans", sans-serif';
Chart.defaults.font.family = FONT;
Chart.defaults.color = '#000';

const xy = (rows, col) => rows.map(r => ({ x: r[0], y: r[col] }));
const fixedTicks = list => scale => { scale.ticks = list.map(v => ({ value: v })); };
const minusSign = v => (v < 0 ? '\u2212' + Math.abs(v) : String(v));

// fixed axis thickness; label overhang must not shrink the plotting area
const fitVertical = w => s => { s.width = w; s.paddingTop = 0; s.paddingBottom = 0; };
const fitHorizontal = h => s => { s.height = h; s.paddingLeft = 0; s.paddingRight = 0; };

// shaded calibration / validation periods and their boundaries
const periodPlugin = {
  id: 'periods',
  beforeDatasetsDraw(chart) {
    const { ctx, chartArea: a, scales: { x } } = chart;
    ctx.save();
    ctx.beginPath(); ctx.rect(a.left, a.top, a.right - a.left, a.bottom - a.top); ctx.clip();
    const x0 = x.getPixelForValue(calibrationStart);
    const x1 = x.getPixelForValue(validationStart);
    const x2 = x.getPixelForValue(validationEnd);
    ctx.fillStyle = 'rgba(0,128,0,0.2)';
    ctx.fillRect(x0, a.top, x1 - x0, a.bottom - a.top);
    ctx.fillStyle = 'rgba(255,255,0,0.2)';
    ctx.fillRect(x1, a.top, x2 - x1, a.bottom - a.top);
    ctx.restore();
  },
  afterDatasetsDraw(chart) {
    const { ctx, chartArea: a, scales: { x } } = chart;
    ctx.save();
    ctx.strokeStyle = '#000';
    ctx.lineWidth = 2.5;
    [calibrationStart, validationStart].forEach(v => {
      const px = x.getPixelForValue(v);
      ctx.beginPath(); ctx.moveTo(px, a.top); ctx.lineTo(px, a.bottom); ctx.stroke();
    });
    // top spine
    ctx.lineWidth = 1.6;
    ctx.beginPath(); ctx.moveTo(a.left - 0.8, a.top); ctx.lineTo(a.right + 0.8, a.top); ctx.stroke();
    ctx.restore();
  }
};

// axis titles, rotated to read bottom-to-top on every side
const titlePlugin = {
  id: 'axisTitles',
  afterDraw(chart) {
    const { ctx, chartArea: a, scales } = chart;
    const vText = (x, y, parts) => {
      ctx.save();
      ctx.translate(x, y);
      ctx.rotate(-Math.PI / 2);
      ctx.fillStyle = '#000';
      ctx.textBaseline = 'middle';
      ctx.textAlign = 'left';
      let w = 0;
      parts.forEach(p => { ctx.font = p.size + 'px ' + FONT; w += ctx.measureText(p.t).width + (p.gap || 0); });
      let pos = -w / 2;
      parts.forEach(p => {
        ctx.font = p.size + 'px ' + FONT;
        ctx.fillText(p.t, pos, p.dy || 0);
        pos += ctx.measureText(p.t).width + (p.gap || 0);
      });
      ctx.restore();
    };
    vText(35, scales.yRain.getPixelForValue(41.3), [{ t: 'Rainfall (mm)', size: 26 }]);
    vText(1691, (a.top + a.bottom) / 2, [
      { t: 'Q (m', size: 26, gap: 1 }, { t: '3', size: 18, dy: -10, gap: 3 }, { t: ' s', size: 26, gap: 1 },
      { t: '\u22121', size: 18, dy: -10, gap: 3 }, { t: ')', size: 26 }
    ]);
    vText(1792, (a.top + a.bottom) / 2 - 5, [{ t: 'ETP (mm)', size: 26 }]);
  }
};

const axisGrid = { display: true, drawOnChartArea: false, drawTicks: true, tickLength: 6, color: '#000', lineWidth: 1.5 };
const axisBorder = { display: true, color: '#000', width: 1.6 };

new Chart(document.getElementById('chart').getContext('2d'), {
  type: 'line',
  data: {
    datasets: [
      {
        type: 'bar', label: 'Rainfall (mm)', data: xy(rainfall.concat(rainfallLight), 1), yAxisID: 'yRain',
        backgroundColor: 'rgba(70,70,255,0.38)', borderWidth: 0, barThickness: 1, grouped: false, order: 5
      },
      {
        label: '90% upper', data: xy(simulatedQ, 3), yAxisID: 'yQ', borderWidth: 0, pointRadius: 0,
        backgroundColor: 'rgba(128,128,128,0.5)', fill: { target: 2 }, order: 4
      },
      {
        label: '90% lower', data: xy(simulatedQ, 2), yAxisID: 'yQ', borderWidth: 0, pointRadius: 0, fill: false, order: 4
      },
      {
        label: 'Observed Q', data: xy(observedQ, 1), yAxisID: 'yQ', borderColor: '#ff7f0e', borderWidth: 2.5,
        pointRadius: 0, fill: false, order: 3
      },
      {
        label: 'Simulated Q', data: xy(simulatedQ, 1), yAxisID: 'yQ', borderColor: '#1f77b4', borderWidth: 3.2,
        pointRadius: 0, fill: false, order: 2
      },
      {
        label: 'ETP (mm)', data: xy(etp, 1), yAxisID: 'yEtp', borderColor: '#2ca02c', borderWidth: 3,
        pointRadius: 0, fill: false, order: 1
      }
    ]
  },
  options: {
    responsive: false,
    devicePixelRatio: 1,
    animation: false,
    events: [],
    layout: { autoPadding: false, padding: { top: 14, left: 0, right: 0, bottom: 0 } },
    elements: { line: { tension: 0, borderJoinStyle: 'round', borderCapStyle: 'round' }, point: { radius: 0, hoverRadius: 0 } },
    plugins: { legend: { display: false }, tooltip: { enabled: false } },
    scales: {
      x: {
        type: 'linear', position: 'bottom', min: 2014.441, max: 2020.383, offset: false,
        afterBuildTicks: fixedTicks(yearTicks),
        afterFit: fitHorizontal(41.7),
        ticks: { font: { size: 25, lineHeight: 1 }, padding: 4, color: '#000', callback: v => String(v) },
        grid: axisGrid, border: axisBorder
      },
      yRain: {
        type: 'linear', position: 'left', reverse: true, min: 0, max: 90.16,
        afterBuildTicks: fixedTicks(rainTicks),
        afterFit: fitVertical(101),
        ticks: { font: { size: 25, lineHeight: 1 }, padding: 10, color: '#000', callback: v => String(v) },
        grid: axisGrid, border: axisBorder
      },
      yQ: {
        type: 'linear', position: 'right', weight: 1, min: -0.0238, max: 0.4914,
        afterBuildTicks: fixedTicks(qTicks),
        afterFit: fitVertical(107),
        ticks: { font: { size: 18, lineHeight: 1 }, padding: 8, color: '#000', callback: v => v.toFixed(1) },
        grid: axisGrid, border: axisBorder
      },
      yEtp: {
        type: 'linear', position: 'right', weight: 2, min: -4.966, max: 10,
        afterBuildTicks: fixedTicks(etpTicks),
        afterFit: fitVertical(83),
        ticks: { font: { size: 18, lineHeight: 1 }, padding: 9, color: '#000', callback: minusSign },
        grid: axisGrid, border: axisBorder
      }
    }
  },
  plugins: [periodPlugin, titlePlugin]
});
</script>
</body>
</html>
